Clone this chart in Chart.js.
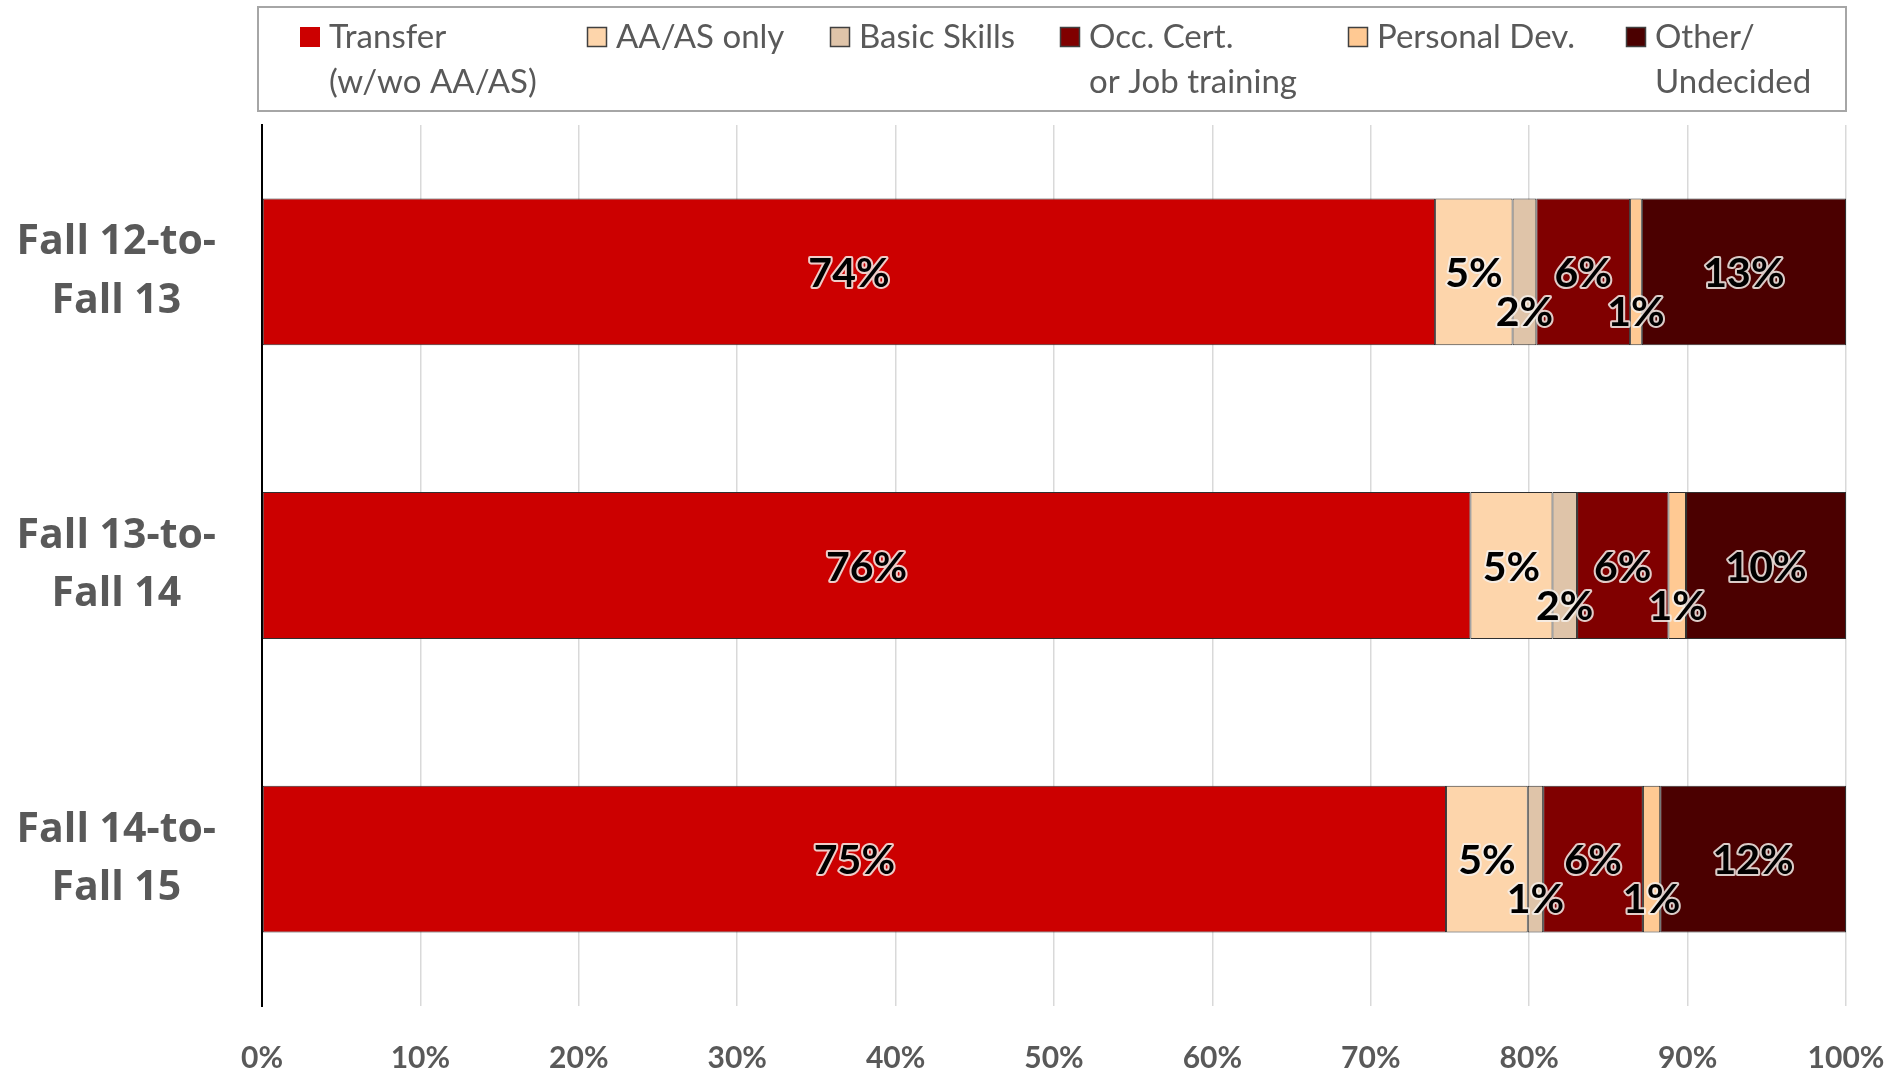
<!DOCTYPE html>
<html>
<head>
<meta charset="utf-8">
<title>Student goals by cohort</title>
<script src="https://cdn.jsdelivr.net/npm/chart.js@4.4.1/dist/chart.umd.min.js"></script>
<style>
  html, body { margin: 0; padding: 0; background: #fff; }
  #chart { display: block; }
</style>
</head>
<body>
<canvas id="chart" width="1900" height="1071"></canvas>
<script>
// Cohorts shown on the y axis (two lines each)
const cohorts = [
    ['Fall 12-to-', 'Fall 13'],
    ['Fall 13-to-', 'Fall 14'],
    ['Fall 14-to-', 'Fall 15']
];

// Share of students per goal, in % (one value per cohort)
const transfer       = [74.06, 76.29, 74.75];
const aaOnly         = [4.89, 5.18, 5.16];
const basicSkills    = [1.50, 1.55, 0.97];
const occCert        = [5.92, 5.77, 6.30];
const personalDev    = [0.74, 1.11, 1.09];
const otherUndecided = [12.89, 10.10, 11.73];

// Legend names (multi-line) and colours
const seriesNames = [
    ['Transfer', '(w/wo AA/AS)'],
    ['AA/AS only'],
    ['Basic Skills'],
    ['Occ. Cert.', 'or Job training'],
    ['Personal Dev.'],
    ['Other/', 'Undecided']
];
const seriesColors = ['#cc0000', '#fdd5ab', '#dfc4a9', '#800000', '#ffc993', '#4b0000'];
const seriesValues = [transfer, aaOnly, basicSkills, occCert, personalDev, otherUndecided];

// x axis ticks (%)
const xTicks = [0, 10, 20, 30, 40, 50, 60, 70, 80, 90, 100];

// Labels for the thin segments sit lower so they do not collide
const lowLabel = [false, false, true, false, true, false];

/**
 * Draws the boxed legend above the plot
 */
const boxLegend = {
    id: 'boxLegend',
    afterDraw(chart) {
        const ctx = chart.ctx;
        const itemX = [300, 587, 830, 1060, 1348, 1626];
        ctx.save();
        ctx.strokeStyle = '#a6a6a6';
        ctx.lineWidth = 2;
        ctx.strokeRect(258, 7, 1588, 104);

        ctx.font = '33px Lato';
        ctx.textBaseline = 'middle';
        ctx.textAlign = 'left';
        seriesNames.forEach((lines, i) => {
            const x = itemX[i];
            ctx.fillStyle = seriesColors[i];
            ctx.fillRect(x, 27, 20, 20);
            if (i > 0) {
                ctx.strokeStyle = '#404040';
                ctx.lineWidth = 1.5;
                ctx.strokeRect(x + 0.5, 27.5, 19, 19);
            }
            ctx.fillStyle = '#595959';
            lines.forEach((t, k) => ctx.fillText(t, x + 29, 37 + k * 45));
        });
        ctx.restore();
    }
};

/**
 * Percentage labels inside the bar segments
 */
const segmentLabels = {
    id: 'segmentLabels',
    afterDatasetsDraw(chart) {
        const ctx = chart.ctx;
        ctx.save();
        ctx.font = 'bold 41px Lato';
        ctx.textAlign = 'center';
        ctx.textBaseline = 'middle';
        ctx.lineJoin = 'round';
        chart.data.datasets.forEach((ds, i) => {
            const meta = chart.getDatasetMeta(i);
            meta.data.forEach((bar, j) => {
                const x = (bar.x + bar.base) / 2;
                const y = bar.y + (lowLabel[i] ? 41 : 2);
                const txt = Math.round(ds.data[j]) + '%';
                ctx.lineWidth = 4;
                ctx.strokeStyle = 'rgba(245,240,235,0.85)';
                ctx.strokeText(txt, x, y);
                ctx.fillStyle = '#000';
                ctx.fillText(txt, x, y);
            });
        });
        ctx.restore();
    }
};

const ctx = document.getElementById('chart').getContext('2d');

new Chart(ctx, {
    type: 'bar',
    data: {
        labels: cohorts,
        datasets: seriesValues.map((vals, i) => ({
            label: seriesNames[i].join(' '),
            data: vals,
            backgroundColor: seriesColors[i],
            borderColor: '#303030',
            borderWidth: 1,
            borderSkipped: false,
            barPercentage: 0.5,
            categoryPercentage: 1
        }))
    },
    options: {
        indexAxis: 'y',
        responsive: false,
        animation: false,
        devicePixelRatio: 1,
        layout: {
            padding: { top: 125, right: 54, left: 0, bottom: 0 }
        },
        scales: {
            x: {
                stacked: true,
                min: 0,
                max: 100,
                afterBuildTicks: scale => {
                    scale.ticks = xTicks.map(v => ({ value: v }));
                },
                afterFit: scale => {
                    scale.height = 65;
                    scale.paddingLeft = 0;
                    scale.paddingRight = 0;
                },
                grid: {
                    color: '#d9d9d9',
                    lineWidth: 1.5,
                    drawTicks: false
                },
                border: { display: false },
                ticks: {
                    padding: 34,
                    color: '#595959',
                    font: { family: 'Lato', weight: 'bold', size: 30 },
                    callback: v => v + '%'
                }
            },
            y: {
                stacked: true,
                afterFit: scale => {
                    scale.width = 262;
                    scale.paddingTop = 0;
                    scale.paddingBottom = 0;
                },
                grid: { display: false, drawTicks: false },
                border: { display: true, color: '#000', width: 2 },
                ticks: {
                    crossAlign: 'center',
                    padding: 46,
                    color: '#595959',
                    font: { family: 'Open Sans', weight: 'bold', size: 41, lineHeight: 1.42 }
                }
            }
        },
        plugins: {
            legend: { display: false },
            tooltip: { enabled: false }
        }
    },
    plugins: [segmentLabels, boxLegend]
});
</script>
</body>
</html>
